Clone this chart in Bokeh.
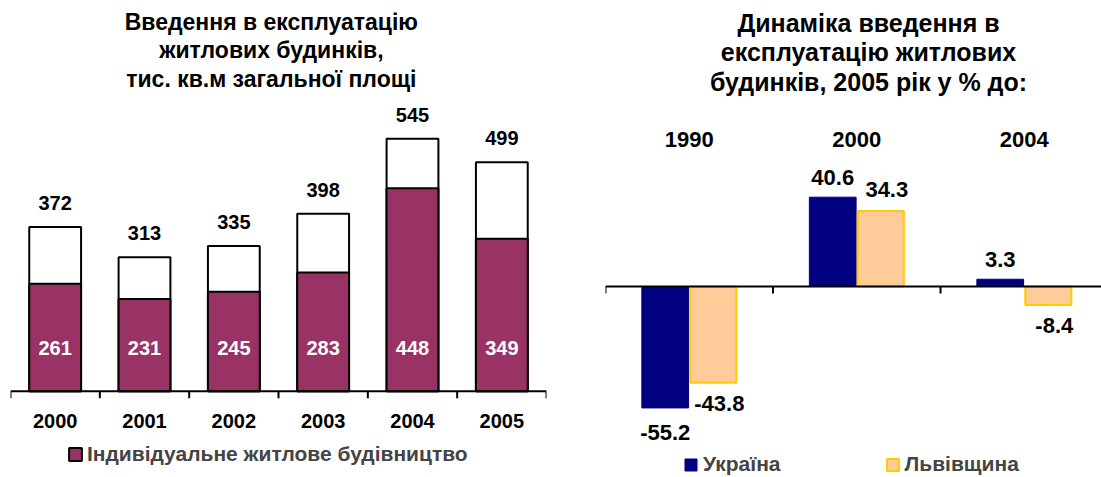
import math
from bokeh.plotting import figure
from bokeh.models import Range1d, Legend, LegendItem, Span
from bokeh.layouts import row
from bokeh.embed import file_html
from bokeh.resources import INLINE
from bokeh.core.properties import value

# ---------------- data ----------------
years = ["2000", "2001", "2002", "2003", "2004", "2005"]
total = [372, 313, 335, 398, 545, 499]
individual = [261, 231, 245, 283, 448, 349]
left_title = ["Введення в експлуатацію", "житлових будинків,", "тис. кв.м загальної площі"]
left_legend = "Індивідуальне житлове будівництво"

periods = ["1990", "2000", "2004"]
ukraine = [-55.2, 40.6, 3.3]
lviv = [-43.8, 34.3, -8.4]
right_title = ["Динаміка введення в", "експлуатацію житлових", "будинків, 2005 рік у % до:"]
series_names = ["Україна", "Львівщина"]

FONT = "Liberation Sans"
PURPLE = "#993366"
NAVY = "#000080"
PEACH = "#FFCC99"
GOLD = "#FFCC00"
AXIS_MIN = 50  # value axis of the left chart starts here


def txt(p, x, y, text, size, color="black", align="center", **kw):
    p.text(x=x, y=y, text=text, text_align=align, text_baseline="middle",
           text_font=value(FONT), text_font_style="bold", text_font_size=size,
           text_color=color, **kw)


def base_fig(width, x_range, y_range, mb_left, mb_right):
    p = figure(width=width, height=477, output_backend="svg", toolbar_location=None,
               title=None, x_range=x_range, y_range=y_range,
               x_axis_location=None, y_axis_location=None, frame_align=False,
               min_border_left=mb_left, min_border_right=mb_right,
               min_border_top=0, min_border_bottom=0)
    p.outline_line_color = None
    p.grid.visible = False
    return p


# ---------------- left chart ----------------
n = len(years)
xs = [i + 0.5 for i in range(n)]
L_TOP = 816.3
left = base_fig(570, Range1d(0, n), Range1d(-119.0, L_TOP), 10, 24)

left.vbar(x=xs, top=total, bottom=AXIS_MIN, width=0.58, fill_color="white",
          line_color="black", line_width=2)
r_ind = left.vbar(x=xs, top=individual, bottom=AXIS_MIN, width=0.58, fill_color=PURPLE,
                  line_color="black", line_width=2)

# category axis: line + outward ticks at category boundaries + labels
left.add_layout(Span(location=AXIS_MIN, dimension="width", line_color="black", line_width=2))
left.ray(x=list(range(n + 1)), y=[AXIS_MIN] * (n + 1), length=7, length_units="screen",
         angle=-math.pi / 2, line_color="black", line_width=2)
txt(left, xs, [AXIS_MIN] * n, years, "20px", y_offset=30)

txt(left, xs, total, [str(v) for v in total], "20px", y_offset=-24)
txt(left, xs, [AXIS_MIN] * n, [str(v) for v in individual], "20px", color="white",
    y_offset=-43)

# title
txt(left, [2.92] * 3, [L_TOP] * 3, left_title, "23px", y_offset=[21, 49, 78])

leg_l = Legend(items=[LegendItem(label=left_legend, renderers=[r_ind])],
               orientation="horizontal", location=(57, 11),
               label_text_font=FONT, label_text_font_style="bold", label_text_font_size="21px",
               glyph_width=16, glyph_height=16, label_height=16, label_standoff=4,
               padding=0, margin=0, border_line_color=None, background_fill_alpha=0)
left.add_layout(leg_l, "center")

# ---------------- right chart ----------------
m = len(periods)
cx = [i + 0.5 for i in range(m)]
bw = 0.287
ux = [c - bw / 2 for c in cx]
lx = [c + bw / 2 for c in cx]
R_TOP = 130.0
right = base_fig(531, Range1d(0, 2.961), Range1d(-86.82, R_TOP), 35, 0)

r_u = right.vbar(x=ux, top=ukraine, bottom=0, width=bw - 0.008, fill_color=NAVY,
                 line_color=NAVY, line_width=1)
r_l = right.vbar(x=lx, top=lviv, bottom=0, width=bw - 0.012, fill_color=PEACH,
                 line_color=GOLD, line_width=2)

right.add_layout(Span(location=0, dimension="width", line_color="black", line_width=2))
right.ray(x=list(range(m + 1)), y=[0] * (m + 1), length=7, length_units="screen",
          angle=-math.pi / 2, line_color="black", line_width=2)

txt(right, ux, ukraine, [str(v) for v in ukraine], "22px",
    y_offset=[-20 if v >= 0 else 25 for v in ukraine])
txt(right, lx, lviv, [str(v) for v in lviv], "22px", x_offset=6,
    y_offset=[-22 if v >= 0 else 21 for v in lviv])

# period labels above the plot area and title
txt(right, cx, [R_TOP] * m, periods, "22px", y_offset=139)
txt(right, [1.57] * 3, [R_TOP] * 3, right_title, "25px", y_offset=[22, 51, 81])

leg_r = Legend(items=[LegendItem(label=series_names[0], renderers=[r_u]),
                      LegendItem(label=series_names[1], renderers=[r_l])],
               orientation="horizontal", location=(78, 1), spacing=104,
               label_text_font=FONT, label_text_font_style="bold", label_text_font_size="21px",
               glyph_width=15, glyph_height=15, label_height=15, label_standoff=5,
               padding=0, margin=0, border_line_color=None, background_fill_alpha=0)
right.add_layout(leg_r, "center")

layout = row(left, right)
open("out.html", "w").write(file_html(layout, INLINE))
